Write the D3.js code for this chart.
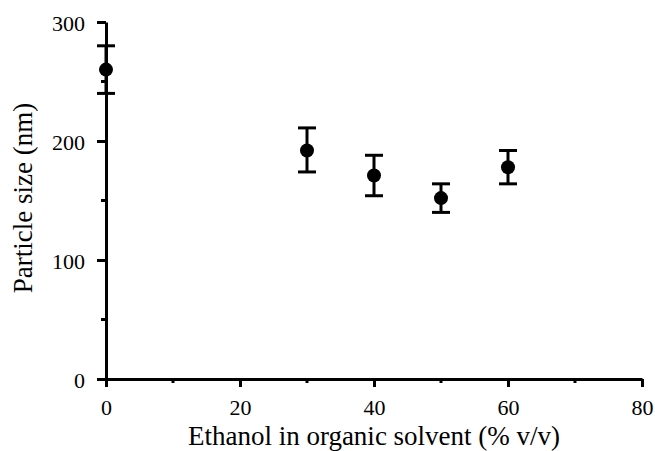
<!DOCTYPE html>
<html>
<head>
<meta charset="utf-8">
<script src="https://cdn.jsdelivr.net/npm/d3@7"></script>
</head>
<body style="margin:0;background:#fff">
<script>
// data
var ethanol = [0, 30, 40, 50, 60];
var sizeMean = [260, 192, 171, 152, 178];
var sizeLow = [240, 174, 154, 140, 164];
var sizeHigh = [280, 211, 188, 164, 192];

var xTicks = [0, 20, 40, 60, 80];
var xMinor = [10, 30, 50, 70];
var yTicks = [0, 100, 200, 300];
var yMinor = [50, 150, 250];

var width = 655, height = 451;
var margin = { top: 22, right: 13, bottom: 72, left: 106 };
var serif = "Liberation Serif";

var svg = d3.select("body").append("svg")
  .attr("width", width)
  .attr("height", height)
  .attr("font-family", serif)
  .style("display", "block");

var x = d3.scaleLinear().domain([0, 80]).range([margin.left, width - margin.right]);
var y = d3.scaleLinear().domain([0, 300]).range([height - margin.bottom, margin.top]);

var data = ethanol.map(function(e, i) {
  return { x: e, y: sizeMean[i], lo: sizeLow[i], hi: sizeHigh[i] };
});

// axes
var xAxis = svg.append("g")
  .attr("transform", "translate(0," + y(0) + ")")
  .call(d3.axisBottom(x).tickValues(xTicks).tickSize(8).tickPadding(12).tickSizeOuter(0));
xAxis.append("g").selectAll("line")
  .data(xMinor).enter().append("line")
  .attr("x1", function(d) { return x(d); })
  .attr("x2", function(d) { return x(d); })
  .attr("y1", 0).attr("y2", 4);

var yAxis = svg.append("g")
  .attr("transform", "translate(" + x(0) + ",0)")
  .call(d3.axisLeft(y).tickValues(yTicks).tickSize(9).tickPadding(12).tickSizeOuter(0));
yAxis.selectAll(".tick text").attr("dy", "0.4em");
yAxis.append("g").selectAll("line")
  .data(yMinor).enter().append("line")
  .attr("y1", function(d) { return y(d); })
  .attr("y2", function(d) { return y(d); })
  .attr("x1", 0).attr("x2", -5);

// axis groups come with their own font settings, replace them
xAxis.attr("font-family", serif).attr("font-size", 22);
yAxis.attr("font-family", serif).attr("font-size", 22);
svg.selectAll("line, .domain")
  .attr("stroke", "#000").attr("stroke-width", 3);
svg.selectAll(".tick text")
  .attr("fill", "#000")
  .style("font-family", "'Liberation Serif', serif")
  .style("font-size", "22px");

// axis titles
svg.append("text")
  .attr("x", (x(0) + x(80)) / 2)
  .attr("y", 445)
  .attr("text-anchor", "middle")
  .attr("font-size", 27)
  .attr("font-family", serif)
  .text("Ethanol in organic solvent (% v/v)");

svg.append("text")
  .attr("transform", "translate(32,198) rotate(-90)")
  .attr("text-anchor", "middle")
  .attr("font-size", 27)
  .attr("font-family", serif)
  .text("Particle size (nm)");

// error bars
var cap = 9;
var bars = svg.append("g").selectAll("g")
  .data(data).enter().append("g");
bars.append("line")
  .attr("x1", function(d) { return x(d.x); })
  .attr("x2", function(d) { return x(d.x); })
  .attr("y1", function(d) { return y(d.lo); })
  .attr("y2", function(d) { return y(d.hi); });
bars.append("line")
  .attr("x1", function(d) { return x(d.x) - cap; })
  .attr("x2", function(d) { return x(d.x) + cap; })
  .attr("y1", function(d) { return y(d.lo); })
  .attr("y2", function(d) { return y(d.lo); });
bars.append("line")
  .attr("x1", function(d) { return x(d.x) - cap; })
  .attr("x2", function(d) { return x(d.x) + cap; })
  .attr("y1", function(d) { return y(d.hi); })
  .attr("y2", function(d) { return y(d.hi); });
bars.selectAll("line").attr("stroke", "#000").attr("stroke-width", 3);

// points
svg.append("g").selectAll("circle")
  .data(data).enter().append("circle")
  .attr("cx", function(d) { return x(d.x); })
  .attr("cy", function(d) { return y(d.y); })
  .attr("r", 7)
  .attr("fill", "#000");
</script>
</body>
</html>
